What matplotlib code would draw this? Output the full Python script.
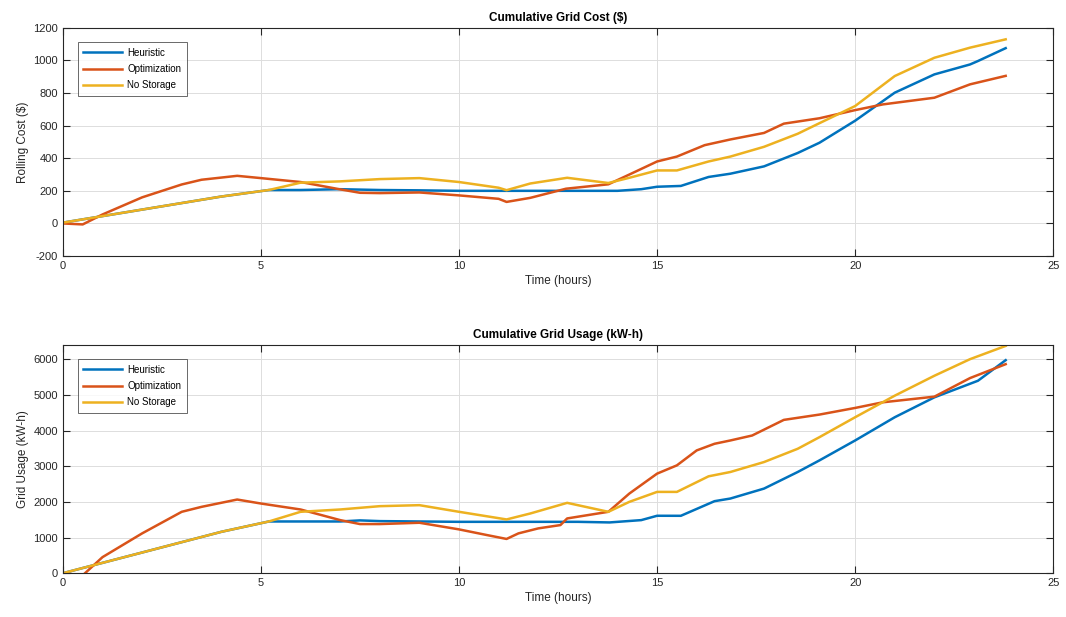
import matplotlib
matplotlib.use("Agg")
import matplotlib.pyplot as plt

plt.rcParams['font.family'] = ['Liberation Sans', 'DejaVu Sans']
plt.rcParams['axes.unicode_minus'] = False

# ---- cumulative grid cost ($) ----
cost_heur_t = [0, 1, 2, 3, 4, 5.2, 6, 7, 8, 9, 10, 11, 12, 13, 14, 14.6, 15, 15.6,
               16.3, 16.85, 17.7, 18.55, 19.1, 20, 21, 22, 22.9, 23.1, 23.8]
cost_heur = [5, 45, 85, 125, 165, 205, 205, 210, 205, 203, 200, 200, 200, 200, 200, 210, 225, 230,
             285, 305, 350, 432, 495, 630, 802, 914, 975, 996, 1075]

cost_opt_t = [0, 0.5, 1, 2, 3, 3.5, 4.4, 5, 6, 7, 7.5, 8, 9, 10, 11, 11.2, 11.8, 12.7,
              13.77, 14.3, 15, 15.5, 16.2, 16.85, 17.7, 18.2, 19.1, 20, 20.7, 22, 22.9, 23.8]
cost_opt = [0, -6, 55, 160, 239, 268, 292, 278, 254, 209, 188, 186, 190, 172, 151, 132, 157, 213,
            240, 300, 380, 410, 480, 515, 555, 612, 645, 695, 730, 771, 853, 905]

cost_nostor_t = [0, 1, 2, 3, 4, 5.2, 6, 7, 8, 9, 10, 11, 11.2, 11.8, 12.73, 13.77, 14.3, 15,
                 15.5, 16.3, 16.85, 17.7, 18.55, 19.1, 20, 21, 22, 22.9, 23.8]
cost_nostor = [5, 45, 85, 125, 165, 205, 250, 258, 272, 278, 254, 219, 204, 245, 280, 248, 280, 325,
               325, 380, 410, 470, 550, 615, 720, 904, 1016, 1078, 1129]

# ---- cumulative grid usage (kW-h) ----
use_heur_t = [0, 1, 2, 3, 4, 5.2, 6, 7, 7.5, 8, 9, 10, 11, 12, 13, 13.8, 14.6, 15, 15.6,
              16.45, 16.85, 17.7, 18.55, 19.1, 20, 21, 22, 23.1, 23.8]
use_heur = [0, 290, 580, 870, 1160, 1450, 1450, 1450, 1480, 1460, 1450, 1440, 1440, 1440, 1440, 1423, 1488, 1610, 1609,
            2019, 2093, 2372, 2837, 3163, 3721, 4372, 4930, 5395, 5972]

use_opt_t = [0, 0.5, 1, 2, 3, 3.5, 4.4, 5, 6, 7, 7.5, 8, 9, 10, 10.7, 11.2, 11.5, 12,
             12.56, 12.73, 13.77, 14.3, 15, 15.5, 16.0, 16.45, 16.85, 17.4, 18.2, 19.1, 20, 20.7,
             22, 22.9, 23.8]
use_opt = [0, -60, 450, 1116, 1721, 1860, 2065, 1953, 1786, 1488, 1377, 1377, 1414, 1228, 1070, 960, 1116, 1256,
           1349, 1535, 1721, 2233, 2791, 3023, 3442, 3628, 3721, 3860, 4298, 4447, 4633, 4791,
           4949, 5470, 5860]

use_nostor_t = [0, 1, 2, 3, 4, 5.2, 6, 7, 8, 9, 10, 11.2, 11.8, 12.73, 13.77, 14.3, 15, 15.5,
                16.3, 16.85, 17.7, 18.55, 19.1, 20, 21, 22, 22.9, 23.8]
use_nostor = [0, 290, 580, 870, 1160, 1450, 1721, 1786, 1879, 1907, 1721, 1507, 1674, 1972, 1721, 2000, 2279, 2279,
              2716, 2837, 3116, 3488, 3814, 4372, 4977, 5535, 6000, 6372]

labels = ["Heuristic", "Optimization", "No Storage"]
colors = ["#0072BD", "#D95319", "#EDB120"]

fig = plt.figure(figsize=(10.66, 6.17), dpi=100)
ax1 = fig.add_axes([0.059, 0.585, 0.929, 0.370])
ax2 = fig.add_axes([0.059, 0.071, 0.929, 0.370])

panels = [
    (ax1, [(cost_heur_t, cost_heur), (cost_opt_t, cost_opt), (cost_nostor_t, cost_nostor)],
     "Cumulative Grid Cost (\\$)", "Rolling Cost (\\$)", (-200, 1200), range(-200, 1201, 200)),
    (ax2, [(use_heur_t, use_heur), (use_opt_t, use_opt), (use_nostor_t, use_nostor)],
     "Cumulative Grid Usage (kW-h)", "Grid Usage (kW-h)", (0, 6400), range(0, 6001, 1000)),
]

for ax, series, title, ylabel, ylim, yticks in panels:
    for (t, v), lab, c in zip(series, labels, colors):
        ax.plot(t, v, color=c, lw=1.8, label=lab)
    ax.set_xlim(0, 25)
    ax.set_ylim(*ylim)
    ax.set_xticks(range(0, 26, 5))
    ax.set_yticks(list(yticks))
    ax.grid(True, color="#dddddd", lw=0.7)
    ax.set_axisbelow(True)
    ax.tick_params(direction="in", top=True, right=True, labelsize=8,
                   length=5, color="#262626", labelcolor="#262626")
    for s in ax.spines.values():
        s.set_color("#262626")
        s.set_linewidth(0.8)
    ax.set_title(title, fontsize=8.5, fontweight="bold", pad=5)
    ax.set_xlabel("Time (hours)", fontsize=8.5, color="#262626", labelpad=3)
    ax.set_ylabel(ylabel, fontsize=8.5, color="#262626", labelpad=3)
    leg = ax.legend(loc="upper left", fontsize=7, frameon=True, fancybox=False,
                    edgecolor="#262626", handlelength=4, borderpad=0.6,
                    labelspacing=0.65, handletextpad=0.5, bbox_to_anchor=(0.01, 0.96))
    leg.get_frame().set_linewidth(0.6)

fig.savefig("out.png", dpi=100)
